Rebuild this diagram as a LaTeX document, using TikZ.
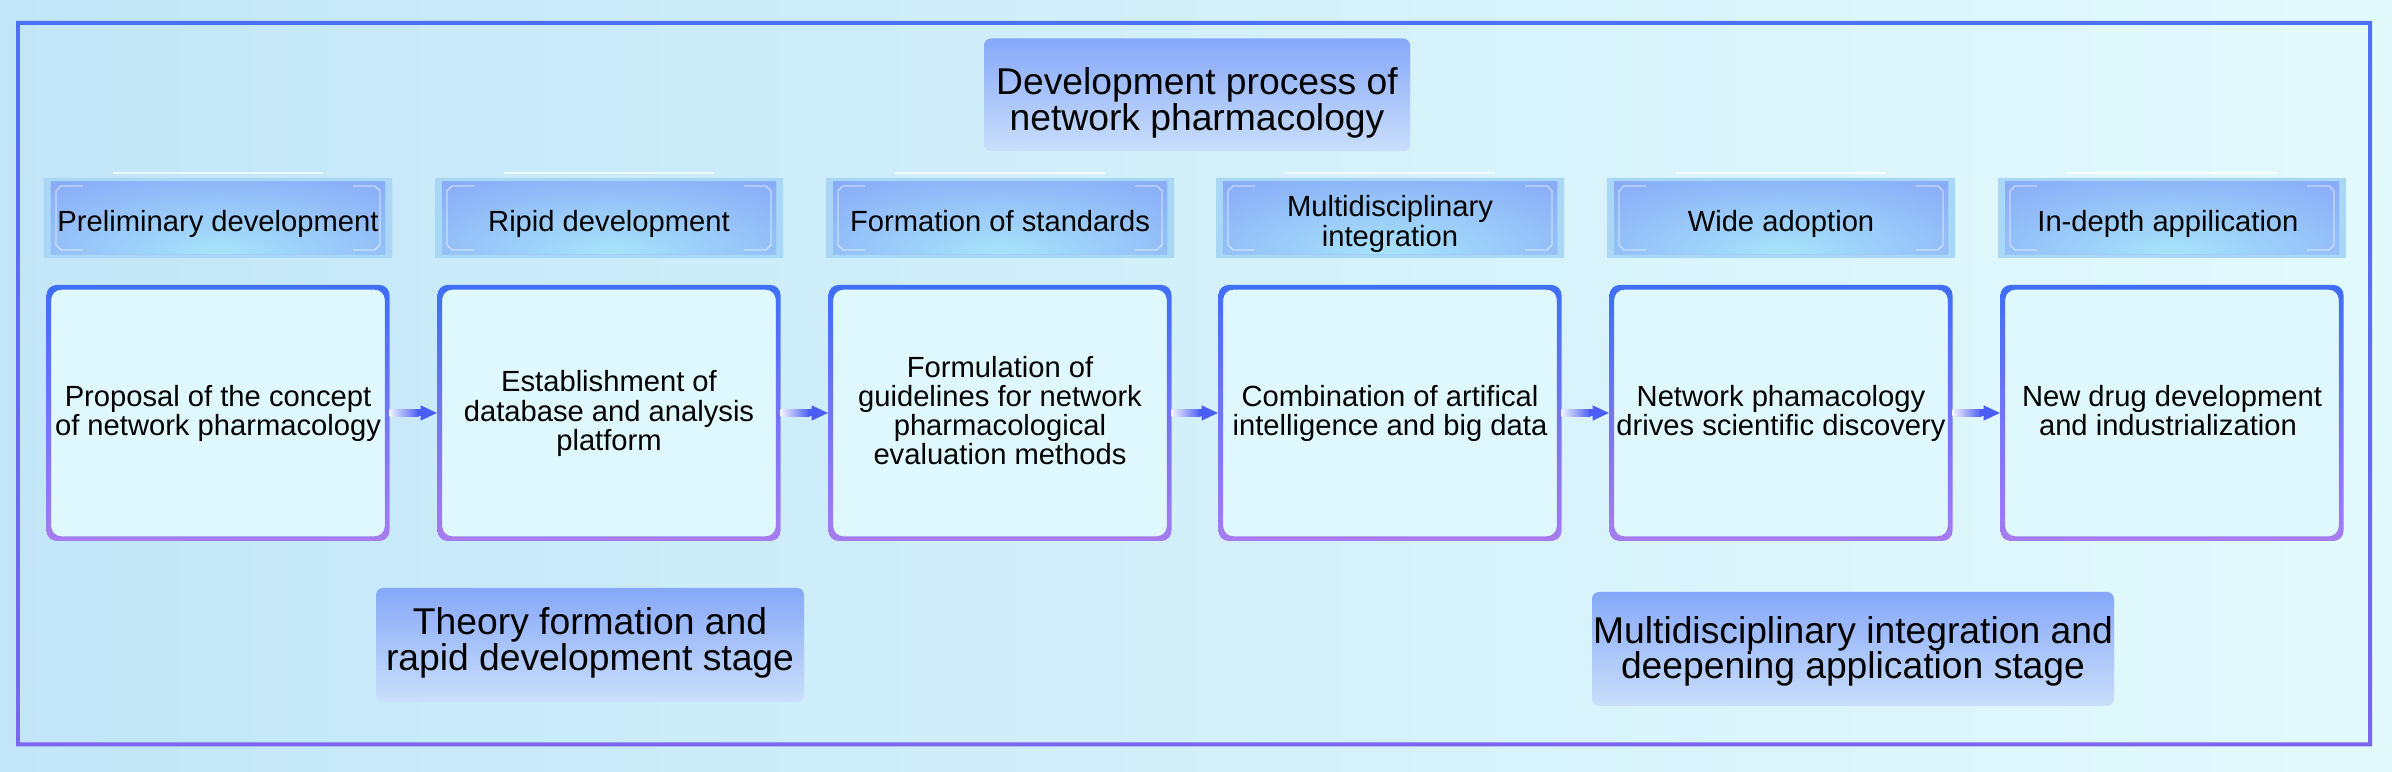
\documentclass[tikz,border=0pt]{standalone}
\usepackage{fontspec}
\setmainfont{Liberation Sans}
\usetikzlibrary{shapes.misc, arrows.meta}

\definecolor{bgL}{HTML}{C2E6F8}
\definecolor{bgR}{HTML}{E3FAFD}
\definecolor{frameTop}{HTML}{4E70F7}
\definecolor{frameBot}{HTML}{7A66F1}
\definecolor{capTop}{HTML}{86A8F8}
\definecolor{capBot}{HTML}{CADFFB}
\definecolor{rimBlue}{HTML}{A9D8F7}
\definecolor{headBlue}{HTML}{88AAF8}
\definecolor{headGlow}{HTML}{A8E4F9}
\definecolor{boxFill}{HTML}{DFF8FD}
\definecolor{edgeTop}{HTML}{3F6EF7}
\definecolor{edgeBot}{HTML}{A77CF0}
\definecolor{arrowBlue}{HTML}{4A5EF7}

% struts that push text lines down inside a box
\newcommand{\padtop}[1]{\rule{0pt}{#1}}
\newcommand{\padbot}[1]{\rule[-#1]{0pt}{#1}}

\begin{document}
\begin{tikzpicture}
		[
			banner/.style={rounded corners=2pt, top color=capTop, bottom color=capBot, inner sep=0pt, align=center, font=\fontsize{10.6}{10}\selectfont},
			rim/.style={chamfered rectangle, chamfered rectangle xsep=1.5pt, chamfered rectangle ysep=1.5pt, fill=rimBlue, inner sep=0pt, minimum width=3.48cm, minimum height=0.8cm},
			edgeline/.style={white, opacity=0.5, line width=0.4pt},
			head/.style={chamfered rectangle, chamfered rectangle xsep=1.5pt, chamfered rectangle ysep=1.5pt, fill=headBlue, inner sep=0pt, minimum width=3.34cm, minimum height=0.73cm,
				path picture={
					\shade[inner color=headGlow, outer color=headBlue] (path picture bounding box.south) ellipse (2.6cm and 0.95cm);
					\draw[edgeline] ([shift={(0.32,-0.045)}]path picture bounding box.north west) -- ++(-0.22,0) -- ++(-0.05,-0.05) -- ([shift={(0.05,0.095)}]path picture bounding box.south west) -- ++(0.05,-0.05) -- ++(0.22,0);
					\draw[edgeline] ([shift={(-0.32,-0.045)}]path picture bounding box.north east) -- ++(0.22,0) -- ++(0.05,-0.05) -- ([shift={(-0.05,0.095)}]path picture bounding box.south east) -- ++(-0.05,-0.05) -- ++(-0.22,0);
				}},
			phase/.style={inner sep=0pt, align=center, font=\fontsize{8.3}{8.5}\selectfont},
			shine/.style={white, opacity=0.7, line width=0.8pt},
			card/.style={rounded corners=0.1cm, fill=boxFill, inner sep=0pt, outer sep=0pt, minimum width=3.43cm, minimum height=2.56cm, align=center, font=\fontsize{8.3}{8.3}\selectfont},
			flow/.style={arrowBlue, line width=2pt, shorten <=0.27cm, -{Triangle[length=0.17cm, width=0.14cm]}},
		]

		% Background and frame
		\shade[left color=bgL, right color=bgR] (0,0) rectangle (23.92,7.72);
		\shade[top color=frameTop, bottom color=frameBot, even odd rule] (0.16,0.255) rectangle (23.72,7.51) (0.20,0.295) rectangle (23.68,7.47);

		% Title and stages
		\node[banner, minimum width=4.26cm, minimum height=1.13cm] (title) at (11.97,6.77) {\padtop{14pt}Development process of\\network pharmacology\padbot{4pt}};
		\node[banner, minimum width=4.28cm, minimum height=1.14cm] (early) at (5.90,1.27) {\padtop{8.3pt}Theory formation and\\rapid development stage\padbot{4pt}};
		\node[banner, minimum width=5.22cm, minimum height=1.14cm] (late) at (18.53,1.23) {\padtop{10.8pt}Multidisciplinary integration and\\deepening application stage\padbot{4pt}};

		% Phases
		\foreach \name/\x/\txt in
		{
			1/2.18/Preliminary development,
			2/6.09/Ripid development,
			3/10.00/Formation of standards,
			4/13.90/Multidisciplinary\\integration,
			5/17.81/Wide adoption,
			6/21.72/In-depth appilication
		}
		{
			\draw[shine] (\x-1.05,5.99) -- (\x+1.05,5.99);
			\node[rim] (r\name) at (\x,5.54) {};
			\node[head] (h\name) at (\x,5.54) {};
			\node[phase] (t\name) at (h\name) {\padtop{10.7pt}\txt\padbot{3pt}};
		}

		% Steps
		\foreach \name/\x/\txt in
		{
			1/2.18/Proposal of the concept\\of network pharmacology,
			2/6.09/Establishment of\\database and analysis\\platform,
			3/10.00/Formulation of\\guidelines for network\\pharmacological\\evaluation methods,
			4/13.90/Combination of artifical\\intelligence and big data,
			5/17.81/Network phamacology\\drives scientific discovery,
			6/21.72/New drug development\\and industrialization
		}
		{
			\node[card] (b\name) at (\x,3.59) {\padtop{8.6pt}\txt\padbot{4pt}};
		}

		\foreach \name in {1,...,6}
		{
			\shade[top color=edgeTop, bottom color=edgeBot, even odd rule, rounded corners=0.1cm] (b\name.south west) rectangle (b\name.north east) ([shift={(0.047,0.047)}]b\name.south west) rectangle ([shift={(-0.047,-0.047)}]b\name.north east);
		}

		% Flow
		\foreach \u/\v in
		{
			1/2,
			2/3,
			3/4,
			4/5,
			5/6}
		{
			\shade[left color=arrowBlue!8, right color=arrowBlue] ([yshift=-1pt]b\u.east) rectangle ([xshift=0.29cm, yshift=1pt]b\u.east);
			\draw[flow] (b\u.east) -- (b\v.west);
		}

		\end{tikzpicture}
\end{document}
